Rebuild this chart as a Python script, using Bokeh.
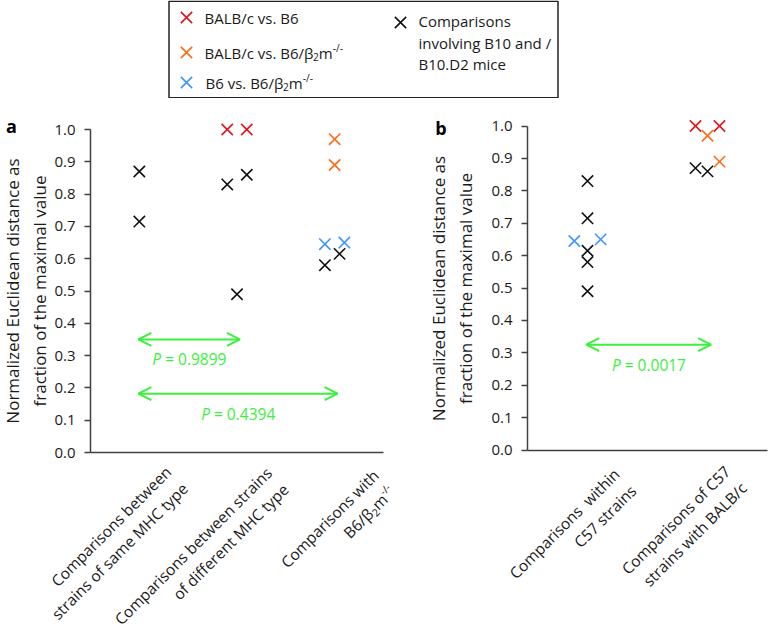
import math
from bokeh.plotting import figure
from bokeh.models import Range1d, FixedTicker, PrintfTickFormatter, Label, Arrow, OpenHead, LinearAxis
from bokeh.layouts import column, row
from bokeh.embed import file_html
from bokeh.resources import INLINE
from bokeh.core.properties import value

# ---------------- data ----------------
y_ticks = [0.0, 0.1, 0.2, 0.3, 0.4, 0.5, 0.6, 0.7, 0.8, 0.9, 1.0]

# category labels (lines made of text runs: (text, kind))
a_categories = [
    [[("Comparisons between", "n")], [("strains of same MHC type", "n")]],
    [[("Comparisons between strains", "n")], [("of different MHC type", "n")]],
    [[("Comparisons with", "n")], [("B6/β", "n"), ("2", "sub"), ("m", "n"), ("-/-", "sup")]],
]
b_categories = [
    [[("Comparisons \u00a0within", "n")], [("C57 strains", "n")]],
    [[("Comparisons of C57", "n")], [("strains with BALB/c", "n")]],
]

# each series: category index, place inside category, value
a_black_cat = [0, 0, 1, 1, 1, 2, 2]
a_black_pos = [0.0, 0.0, -0.1, 0.1, 0.0, -0.1, 0.05]
a_black_val = [0.87, 0.715, 0.83, 0.86, 0.49, 0.58, 0.615]
a_red_cat = [1, 1]
a_red_pos = [-0.1, 0.1]
a_red_val = [1.0, 1.0]
a_orange_cat = [2, 2]
a_orange_pos = [0.0, 0.0]
a_orange_val = [0.97, 0.89]
a_blue_cat = [2, 2]
a_blue_pos = [-0.1, 0.1]
a_blue_val = [0.645, 0.65]

b_black_cat = [0, 0, 0, 0, 0, 1, 1]
b_black_pos = [0.0, 0.0, 0.0, 0.0, 0.0, -0.1, 0.0]
b_black_val = [0.83, 0.715, 0.615, 0.58, 0.49, 0.87, 0.86]
b_red_cat = [1, 1]
b_red_pos = [-0.1, 0.1]
b_red_val = [1.0, 1.0]
b_orange_cat = [1, 1]
b_orange_pos = [0.0, 0.1]
b_orange_val = [0.97, 0.89]
b_blue_cat = [0, 0]
b_blue_pos = [-0.11, 0.11]
b_blue_val = [0.645, 0.65]

# statistical comparisons: from category, to category, p value, height of arrow
a_test_from = [0, 0]
a_test_to = [1, 2]
a_test_p = ["0.9899", "0.4394"]
a_test_level = [0.35, 0.182]
b_test_from = [0]
b_test_to = [1]
b_test_p = ["0.0017"]
b_test_level = [0.325]

# ---------------- style ----------------
FONT = "Open Sans"
RED = "#e0141e"
ORANGE = "#ff6a13"
BLUE = "#3d95ff"
BLACK = "#111111"
GREEN = "#3cf03c"
AXIS = "#404040"
TXT = "#1a1a1a"
XSIZE = 16

W = {' ': 0.26, 'B': 0.635, 'A': 0.633, 'L': 0.525, '/': 0.363, 'c': 0.478, 'v': 0.513,
     's': 0.477, '.': 0.266, '6': 0.572, 'β': 0.615, 'm': 0.93, '2': 0.572, '-': 0.322}


def tw(s, size):
    return sum(W.get(ch, 0.56) for ch in s) * size


def run_style(kind, size):
    if kind == "n":
        return size, 0.0
    if kind == "sub":
        return size * 0.68, size * 0.3
    return size * 0.68, -size * 0.33


def make_panel(ncat, fig_w, fig_h, fig_top, frame_left_px, unit_px, zero_px, yunit_px,
               label_standoff):
    # page-pixel geometry -> data ranges, so the frame covers the whole figure
    x0 = -frame_left_px / unit_px
    x1 = (fig_w - frame_left_px) / unit_px
    ytop = (zero_px - fig_top) / yunit_px
    ybot = (zero_px - (fig_top + fig_h)) / yunit_px
    p = figure(x_range=Range1d(x0, x1), y_range=Range1d(ybot, ytop),
               width=fig_w, height=fig_h, min_border=0,
               x_axis_location=None, y_axis_location=None,
               output_backend="svg", toolbar_location=None)
    p.outline_line_color = None
    p.xgrid.visible = False
    p.ygrid.visible = False
    p.background_fill_color = "white"
    p.border_fill_color = "white"

    ya = LinearAxis(fixed_location=0)
    ya.ticker = FixedTicker(ticks=y_ticks)
    ya.formatter = PrintfTickFormatter(format="%.1f")
    ya.bounds = (0, 1)
    ya.axis_line_color = AXIS
    ya.axis_line_width = 1.5
    ya.major_tick_line_color = AXIS
    ya.major_tick_line_width = 1.5
    ya.major_tick_out = 6
    ya.major_tick_in = 0
    ya.minor_tick_line_color = None
    ya.major_label_text_font = FONT
    ya.major_label_text_font_size = "15px"
    ya.major_label_text_color = TXT
    ya.major_label_standoff = 9
    ya.axis_label = "Normalized Euclidean distance as\nfraction of the maximal value"
    ya.axis_label_text_font = FONT
    ya.axis_label_text_font_size = "17px"
    ya.axis_label_text_font_style = "normal"
    ya.axis_label_text_color = TXT
    ya.axis_label_text_line_height = 1.2
    ya.axis_label_standoff = label_standoff
    p.add_layout(ya, "left")

    xa = LinearAxis(fixed_location=0)
    xa.ticker = FixedTicker(ticks=[])
    xa.bounds = (0, ncat)
    xa.axis_line_color = AXIS
    xa.axis_line_width = 1.5
    xa.major_tick_line_color = None
    xa.minor_tick_line_color = None
    p.add_layout(xa, "below")
    return p


def add_points(p, cats, poss, vals, color):
    xs = [c + 0.5 + d for c, d in zip(cats, poss)]
    p.scatter(x=xs, y=vals, marker="x", size=XSIZE, line_color=color, line_width=1.6)


def add_cat_labels(p, categories, anchors, size=15.5, spacing=23.5):
    ang = math.pi / 4
    ux, uy = math.cos(ang), -math.sin(ang)
    nx, ny = math.sin(ang), math.cos(ang)
    for i, lines in enumerate(categories):
        ax, ay = anchors[i]
        for k, runs in enumerate(lines):
            px = ax + k * spacing * nx
            py = ay + k * spacing * ny
            for text, kind in reversed(runs):
                fs, shift = run_style(kind, size)
                sx = px + shift * nx
                sy = py + shift * ny
                p.add_layout(Label(x=i + 0.5, y=0, x_offset=sx, y_offset=-sy, text=text,
                                   angle=ang, text_align="right", text_baseline="middle",
                                   text_font=FONT, text_font_size=f"{fs:.1f}px",
                                   text_color=TXT))
                w = tw(text, fs)
                px -= w * ux
                py -= w * uy


def add_tests(p, froms, tos, ps, levels):
    for f, t, pv, lev in zip(froms, tos, ps, levels):
        x0 = f + 0.5 - 0.01
        x1 = t + 0.5 + 0.03
        p.add_layout(Arrow(start=OpenHead(size=13, line_color=GREEN, line_width=2),
                           end=OpenHead(size=13, line_color=GREEN, line_width=2),
                           x_start=x0, y_start=lev, x_end=x1, y_end=lev,
                           line_color=GREEN, line_width=2))
        xm = (x0 + x1) / 2
        p.add_layout(Label(x=xm, y=lev, x_offset=-28, y_offset=-20, text="P",
                           text_align="right", text_baseline="middle", text_font=FONT,
                           text_font_style="italic", text_font_size="15.5px",
                           text_color=GREEN))
        p.add_layout(Label(x=xm, y=lev, x_offset=-24, y_offset=-20, text="= " + pv,
                           text_align="left", text_baseline="middle", text_font=FONT,
                           text_font_size="15.5px", text_color=GREEN))


ROW_TOP = 98
ROW_H = 534

# ---------------- panel a ----------------
pa = make_panel(3, 400, ROW_H, ROW_TOP, 90, 293 / 3, 452, 323, 0)
add_points(pa, a_black_cat, a_black_pos, a_black_val, BLACK)
add_points(pa, a_red_cat, a_red_pos, a_red_val, RED)
add_points(pa, a_orange_cat, a_orange_pos, a_orange_val, ORANGE)
add_points(pa, a_blue_cat, a_blue_pos, a_blue_val, BLUE)
add_cat_labels(pa, a_categories, [(29.0, 16.5), (32.0, 17.5), (41.0, 20.0)])
add_tests(pa, a_test_from, a_test_to, a_test_p, a_test_level)
pa.add_layout(Label(x=0, y=1.0, x_offset=-79, y_offset=3.5, text="a", text_align="center",
                    text_baseline="alphabetic", text_font=FONT, text_font_style="bold",
                    text_font_size="18px", text_color="black"))

# ---------------- panel b ----------------
pb = make_panel(2, 376, ROW_H, ROW_TOP, 127, 120, 449.5, 324, 11)
add_points(pb, b_black_cat, b_black_pos, b_black_val, BLACK)
add_points(pb, b_red_cat, b_red_pos, b_red_val, RED)
add_points(pb, b_orange_cat, b_orange_pos, b_orange_val, ORANGE)
add_points(pb, b_blue_cat, b_blue_pos, b_blue_val, BLUE)
add_cat_labels(pb, b_categories, [(29.1, 21.3), (19.7, 18.5)])
add_tests(pb, b_test_from, b_test_to, b_test_p, b_test_level)
pb.add_layout(Label(x=0, y=1.0, x_offset=-86.5, y_offset=-2.0, text="b", text_align="center",
                    text_baseline="alphabetic", text_font=FONT, text_font_style="bold",
                    text_font_size="18px", text_color="black"))

# ---------------- legend ----------------
leg = figure(width=776, height=ROW_TOP, x_range=Range1d(0, 776), y_range=Range1d(ROW_TOP, 0),
             x_axis_location=None, y_axis_location=None, min_border=0,
             output_backend="svg", toolbar_location=None)
leg.outline_line_color = None
leg.xgrid.visible = False
leg.ygrid.visible = False
leg.quad(left=[168.5], right=[557.5], top=[0.75], bottom=[97.25], fill_color=None,
         line_color="#222222", line_width=1.5)
leg.scatter(x=[186, 186, 186, 400], y=[17, 52, 82, 22], marker="x", size=XSIZE,
            line_color=[RED, ORANGE, BLUE, BLACK], line_width=1.6)


def legend_runs(runs, x, y, size=15):
    for text, kind in runs:
        fs, shift = run_style(kind, size)
        leg.text(x=[x], y=[y + shift], text=[text], text_font=value(FONT),
                 text_font_size=f"{fs:.1f}px", text_align="left", text_baseline="middle",
                 text_color=TXT)
        x += tw(text, fs)


legend_runs([("BALB/c vs. B6", "n")], 204, 17)
legend_runs([("BALB/c vs. B6/β", "n"), ("2", "sub"), ("m", "n"), ("-/-", "sup")], 204, 52)
legend_runs([("B6 vs. B6/β", "n"), ("2", "sub"), ("m", "n"), ("-/-", "sup")], 205, 82)
for txt, yy in zip(["Comparisons", "involving B10 and /", "B10.D2 mice"], [20, 42, 63]):
    legend_runs([(txt, "n")], 418, yy)

layout = column(leg, row(pa, pb))
open("out.html", "w").write(file_html(layout, INLINE))
